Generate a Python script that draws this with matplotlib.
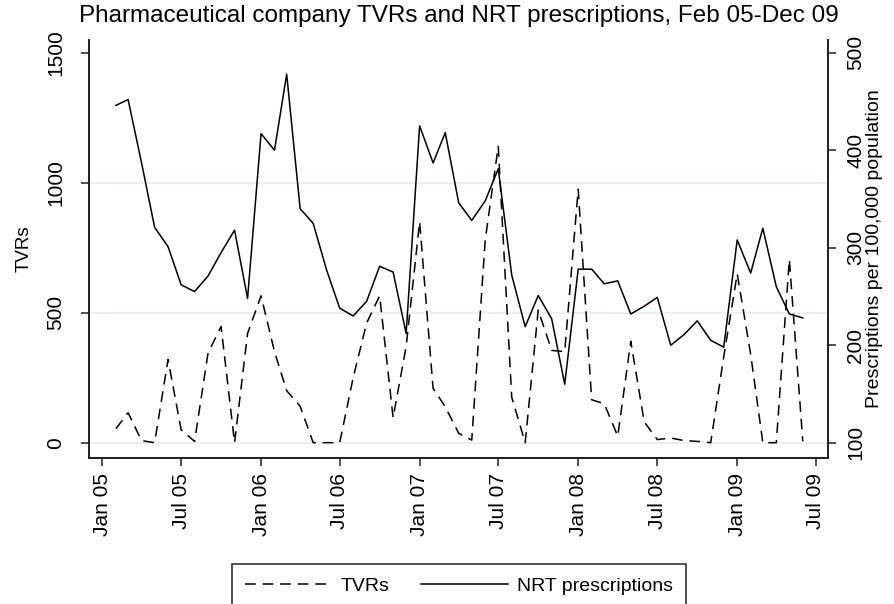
import numpy as np
import pandas as pd
import matplotlib
matplotlib.use("Agg")
import matplotlib.pyplot as plt
import matplotlib.dates as mdates
from matplotlib.lines import Line2D

plt.rcParams['font.family'] = ['Liberation Sans', 'DejaVu Sans']

# monthly series, Feb 2005 onwards
months = pd.date_range('2005-02-01', periods=53, freq='MS')

tvrs = [54, 115, 8, 0, 320, 50, 5, 345, 447, 0, 420, 565,
        350, 200, 140, 0, 0, 0, 250, 460, 565, 96, 370, 850,
        209, 138, 36, 10, 780, 1140, 175, 0, 510, 355, 350, 975,
        165, 150, 25, 390, 80, 12, 18, 8, 5, 0, 330, 650,
        340, 0, 0, 705, 5]

nrt = [446, 452, 387, 321, 301, 262, 255, 271, 295, 318, 248, 417,
       400, 478, 340, 325, 277, 238, 230, 245, 281, 275, 212, 425,
       387, 418, 346, 328, 348, 381, 272, 219, 251, 227, 160, 278,
       278, 263, 266, 232, 240, 249, 200, 211, 225, 205, 198, 308,
       274, 320, 260, 232, 228]

tvr_ticks = [0, 500, 1000, 1500]
grid_levels = [0, 500, 1000]
nrt_ticks = [100, 200, 300, 400, 500]
date_ticks = pd.date_range('2005-01-01', '2009-07-01', freq='6MS')

title = "Pharmaceutical company TVRs and NRT prescriptions, Feb 05-Dec 09"


def tvr_to_nrt(v):
    # left axis 0-1500 lines up with right axis 100-500
    return 100 + v * 400.0 / 1500.0


fig = plt.figure(figsize=(8.94, 6.04), dpi=100)
ax = fig.add_axes([89 / 894, 1 - 457.5 / 604, (828 - 89) / 894, (457.5 - 40) / 604])
ax2 = ax.twinx()

for g in grid_levels:
    ax.axhline(g, color='#e6eeee', lw=1.1, zorder=0)

dash = (0, (7, 4.5))
ax.plot(months, tvrs, color='black', lw=1.1, linestyle=dash, zorder=2)
ax2.plot(months, nrt, color='black', lw=1.1, zorder=3)

ylo, yhi = -57, 1549
ax.set_ylim(ylo, yhi)
ax2.set_ylim(tvr_to_nrt(ylo), tvr_to_nrt(yhi))
ax.set_xlim(pd.Timestamp('2004-12-01'), pd.Timestamp('2009-07-29'))

ax.set_yticks(tvr_ticks)
ax.set_yticklabels([str(t) for t in tvr_ticks], rotation=90, va='center')
ax2.set_yticks(nrt_ticks)
ax2.set_yticklabels([str(t) for t in nrt_ticks], rotation=90, va='center')

ax.set_xticks(date_ticks)
ax.xaxis.set_major_formatter(mdates.DateFormatter('%b %y'))
plt.setp(ax.get_xticklabels(), rotation=90)

for a in (ax, ax2):
    a.spines['top'].set_visible(False)
    for s in ('left', 'right', 'bottom'):
        a.spines[s].set_linewidth(1.3)
        a.spines[s].set_color('#222222')
    a.tick_params(width=1.1, length=6, color='#222222', labelsize=15)
ax.tick_params(axis='y', pad=11)
ax2.tick_params(axis='y', pad=7)
ax.tick_params(axis='x', pad=5)

ax.set_ylabel('TVRs', fontsize=13.5, labelpad=10)
ax2.set_ylabel('Prescriptions per 100,000 population', fontsize=14, labelpad=1)

fig.text(458.5 / 894, 1 - 16 / 604, title, ha='center', va='center', fontsize=17.5)

# legend box runs off the bottom edge of the figure
handles = [Line2D([], [], color='black', lw=1.1, linestyle=dash),
           Line2D([], [], color='black', lw=1.1)]
leg = fig.legend(handles, ['TVRs', 'NRT prescriptions'], loc='upper center',
                 bbox_to_anchor=(459 / 894, 1 - 564 / 604), borderaxespad=0,
                 ncol=2, frameon=True, fancybox=False, edgecolor='black',
                 fontsize=14, borderpad=0.68, handlelength=4.5,
                 handletextpad=0.45, columnspacing=1.6)
leg.get_frame().set_linewidth(1.2)

fig.savefig('out.png', dpi=100)
